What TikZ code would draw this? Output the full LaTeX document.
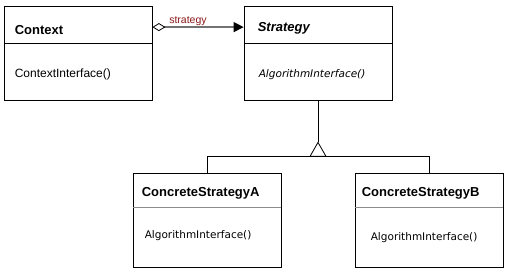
\documentclass[tikz,border=0pt]{standalone}
\usepackage{fontspec}
\setmainfont{Liberation Sans}
\newfontfamily\opfont{DejaVu Sans}
\usepackage{tikz}
\usetikzlibrary{arrows.meta,calc,positioning}
\definecolor{rolered}{HTML}{8B1A1A}

\tikzset{
  classbox/.style={draw,line width=0.8pt,minimum width=148pt,minimum height=94pt,inner sep=0pt},
  clsname/.style={font=\fontsize{13}{15}\selectfont\bfseries,anchor=base west,inner sep=0pt},
  clsop/.style={font=\fontsize{12}{14}\selectfont,anchor=base west,inner sep=0pt},
  implop/.style={font=\opfont\fontsize{10.5}{12}\selectfont,anchor=base west,inner sep=0pt},
  assoc/.style={line width=1.3pt,black!55,{Diamond[open,length=13pt,width=8pt,black,line width=0.8pt]}-{Triangle[length=10pt,width=10pt,black]}},
  gen/.style={line width=0.8pt,-{Triangle[open,length=15pt,width=17pt]}}
}

\begin{document}
\begin{tikzpicture}[x=1pt,y=-1pt]
  \useasboundingbox[fill=white] (0,0) rectangle (518,272);
  % classes
  \node[classbox] (ctx) at (78,53) {};
  \node[classbox] (strat) at (318,53) {};
  \node[classbox] (csa) at (207,220) {};
  \node[classbox] (csb) at (429,220) {};
  \draw[line width=0.8pt] ([yshift=-38pt]ctx.north west) -- ([yshift=-38pt]ctx.north east);
  \draw[line width=0.8pt] ([yshift=-38pt]strat.north west) -- ([yshift=-38pt]strat.north east);
  \draw[line width=1.2pt,black!45] ([yshift=-35pt]csa.north west) -- ([yshift=-35pt]csa.north east);
  \draw[line width=1.2pt,black!45] ([yshift=-35pt]csb.north west) -- ([yshift=-35pt]csb.north east);
  % names and operations
  \node[clsname] (ctxname) at ([xshift=11pt,yshift=-29pt]ctx.north west) {Context};
  \node[clsop] (ctxop) at ([xshift=11pt,yshift=-72pt]ctx.north west) {ContextInterface()};
  \node[clsname] (stratname) at ([xshift=14pt,yshift=-26pt]strat.north west) {\itshape Strategy};
  \node[implop] (stratop) at ([xshift=15pt,yshift=-72pt]strat.north west) {\itshape AlgorithmInterface()};
  \node[clsname] (csaname) at ([xshift=9pt,yshift=-24pt]csa.north west) {ConcreteStrategyA};
  \node[implop] (csaop) at ([xshift=12pt,yshift=-66pt]csa.north west) {AlgorithmInterface()};
  \node[clsname] (csbname) at ([xshift=7pt,yshift=-24pt]csb.north west) {ConcreteStrategyB};
  \node[implop] (csbop) at ([xshift=16pt,yshift=-68pt]csb.north west) {AlgorithmInterface()};
  % association
  \draw[assoc] ([yshift=-21.5pt]ctx.north east) -- node[pos=0.39,above,inner sep=1pt,text=rolered,font=\fontsize{10.5}{12}\selectfont] (role) {strategy} ([yshift=-21.5pt]strat.north west);
  % generalization
  \coordinate (genbase) at ($(csa.north)!0.5!(csb.north)+(0,-16)$);
  \coordinate (gentip) at ([yshift=15pt]genbase);
  \draw[line width=0.8pt] (csa.north) |- (genbase) -| (csb.north);
  \draw[gen] (genbase) -- (gentip);
  \draw[line width=0.8pt] (gentip) -- (strat.south);
\end{tikzpicture}
\end{document}
